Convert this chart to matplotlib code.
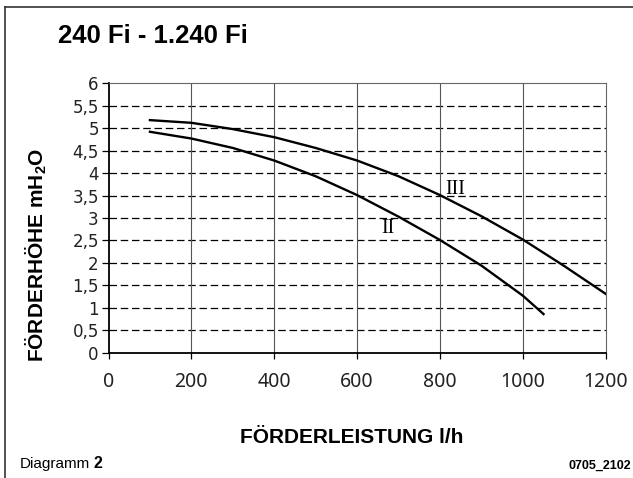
import matplotlib
matplotlib.use("Agg")
import matplotlib.pyplot as plt
from matplotlib.lines import Line2D

plt.rcParams['mathtext.fontset'] = 'custom'
plt.rcParams['mathtext.rm'] = 'Liberation Sans'
plt.rcParams['mathtext.bf'] = 'Liberation Sans:bold'

# curve data (flow l/h, head m H2O)
flow_III = [100, 200, 300, 400, 500, 600, 700, 800, 900, 1000, 1100, 1200]
head_III = [5.18, 5.12, 4.98, 4.80, 4.56, 4.28, 3.93, 3.51, 3.04, 2.52, 1.93, 1.31]
flow_II = [100, 200, 300, 400, 500, 600, 700, 800, 900, 1000, 1050]
head_II = [4.92, 4.77, 4.56, 4.28, 3.93, 3.51, 3.03, 2.51, 1.94, 1.27, 0.86]

x_ticks = [0, 200, 400, 600, 800, 1000, 1200]
y_ticks = [0, 0.5, 1, 1.5, 2, 2.5, 3, 3.5, 4, 4.5, 5, 5.5, 6]
y_tick_labels = ["0", "0,5", "1", "1,5", "2", "2,5", "3", "3,5", "4", "4,5", "5", "5,5", "6"]

W, H = 633, 478
fig = plt.figure(figsize=(W/100, H/100), dpi=100)
ax = fig.add_axes([108.5/W, 1-352.7/H, (605.7-108.5)/W, (352.7-83.3)/H])

ax.set_xlim(0, 1200)
ax.set_ylim(0, 6)

# grid: dashed horizontals, thin solid verticals
for yv in y_ticks[1:-1]:
    ax.axhline(yv, color='black', lw=0.9, ls=(0, (6, 3)), zorder=1)
for xv in x_ticks[1:-1]:
    ax.axvline(xv, color='#555555', lw=0.8, zorder=1)

ax.plot(flow_III, head_III, color='black', lw=1.7, zorder=3)
ax.plot(flow_II, head_II, color='black', lw=1.7, zorder=3)

ax.text(837, 3.63, "III", family='Liberation Serif', fontsize=14.5, ha='center', va='center')
ax.text(675, 2.77, "II", family='Liberation Serif', fontsize=14.5, ha='center', va='center')

for s in ['left', 'bottom']:
    ax.spines[s].set_linewidth(1.3)
for s in ['top', 'right']:
    ax.spines[s].set_linewidth(0.8)
    ax.spines[s].set_color('#666666')
    ax.spines[s].set_linestyle((0, (1, 1)))

ax.set_xticks(x_ticks)
ax.set_xticklabels([str(v) for v in x_ticks], family='Noto Sans', fontsize=14, color='#222222')
ax.set_yticks(y_ticks)
ax.set_yticklabels(y_tick_labels, family='DejaVu Sans', fontsize=12, color='#222222')
ax.tick_params(axis='x', direction='out', length=4, width=0.9, pad=10)
ax.tick_params(axis='y', direction='out', length=5, width=0.9, pad=2)

fig.text(58/W, 1-36/H, "240 Fi - 1.240 Fi", family='Liberation Sans', fontweight='bold',
         fontsize=18.5, ha='left', va='center')
fig.text(36/W, 1-255/H, r"FÖRDERHÖHE mH$_\mathbf{2}$O", family='Liberation Sans',
         fontweight='bold', fontsize=15, rotation=90, ha='center', va='center')
fig.text(352/W, 1-437.5/H, "FÖRDERLEISTUNG l/h", family='Liberation Sans', fontweight='bold',
         fontsize=15, ha='center', va='center')
fig.text(20/W, 1-468/H, "Diagramm", family='Liberation Sans', fontsize=11,
         ha='left', va='baseline')
fig.text(94/W, 1-468/H, "2", family='Liberation Sans', fontweight='bold', fontsize=11.5,
         ha='left', va='baseline')
fig.text(631/W, 1-469/H, "0705_2102", family='Liberation Sans', fontweight='bold', fontsize=9,
         ha='right', va='baseline')

# frame lines at left and top of the page
fig.add_artist(Line2D([5/W, 5/W], [0, 1-7/H], color='#333333', lw=1.2))
fig.add_artist(Line2D([5/W, 1], [1-7/H, 1-7/H], color='#333333', lw=1.2))

fig.savefig("out.png", dpi=100)
